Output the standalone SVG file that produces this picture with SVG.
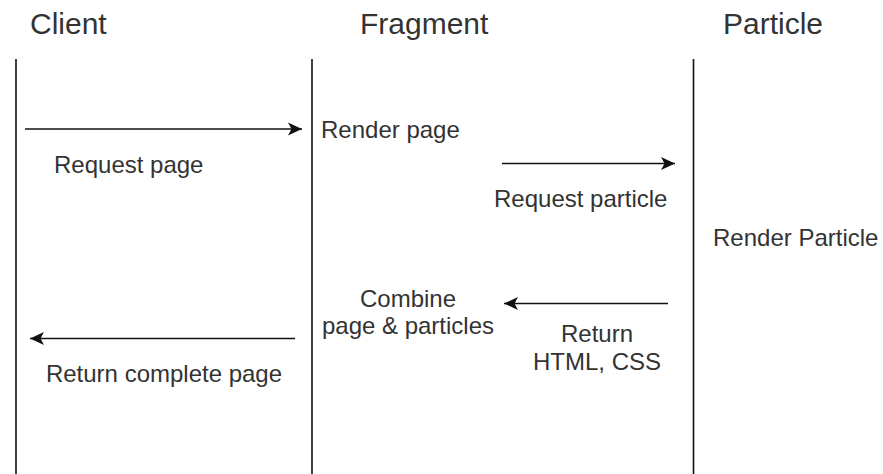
<svg xmlns="http://www.w3.org/2000/svg" width="883" height="474" viewBox="0 0 883 474">
  <style>
    .title { font-family: "Liberation Sans", Arial, sans-serif; font-size: 30px; fill: #333333; }
    .label { font-family: "Liberation Sans", Arial, sans-serif; font-size: 24px; fill: #333333; }
    .mid { text-anchor: middle; }
    .lifeline { stroke: #111; stroke-width: 1.6; fill: none; }
    .msg { stroke: #111; stroke-width: 1.6; fill: none; marker-end: url(#arrow); }
  </style>
  <defs>
    <marker id="arrow" markerUnits="userSpaceOnUse" markerWidth="17" markerHeight="16" refX="15" refY="8" orient="auto">
      <path d="M1,1.5 L15,8 L1,14.5 L4.5,8 Z" fill="#111"/>
    </marker>
  </defs>
  <rect width="883" height="474" fill="#ffffff"/>

  <!-- participants -->
  <g id="client">
    <text class="title" x="30" y="34">Client</text>
    <line class="lifeline" x1="16" y1="59" x2="16" y2="474"/>
  </g>
  <g id="fragment">
    <text class="title" x="360" y="34">Fragment</text>
    <line class="lifeline" x1="312" y1="59" x2="312" y2="474"/>
  </g>
  <g id="particle">
    <text class="title" x="723" y="34">Particle</text>
    <line class="lifeline" x1="693.5" y1="59" x2="693.5" y2="474"/>
  </g>

  <!-- activity notes -->
  <g id="render-page">
    <text class="label" x="321" y="138">Render page</text>
  </g>
  <g id="render-particle">
    <text class="label" x="713" y="246">Render Particle</text>
  </g>
  <g id="combine">
    <text class="label mid" x="408" y="307">Combine</text>
    <text class="label mid" x="408" y="334">page &amp; particles</text>
  </g>

  <!-- messages -->
  <g id="connectors">
    <line class="msg" x1="25" y1="129" x2="302" y2="129"/>
    <line class="msg" x1="502" y1="163.5" x2="675" y2="163.5"/>
    <line class="msg" x1="668" y1="303.5" x2="504" y2="303.5"/>
    <line class="msg" x1="295" y1="338.5" x2="30" y2="338.5"/>
  </g>

  <!-- message labels -->
  <g id="label-request-page">
    <text class="label" x="54" y="173">Request page</text>
  </g>
  <g id="label-request-particle">
    <text class="label" x="494" y="207">Request particle</text>
  </g>
  <g id="label-return-html">
    <text class="label mid" x="597" y="342">Return</text>
    <text class="label mid" x="597" y="370">HTML, CSS</text>
  </g>
  <g id="label-return-page">
    <text class="label mid" x="164" y="382">Return complete page</text>
  </g>
</svg>
